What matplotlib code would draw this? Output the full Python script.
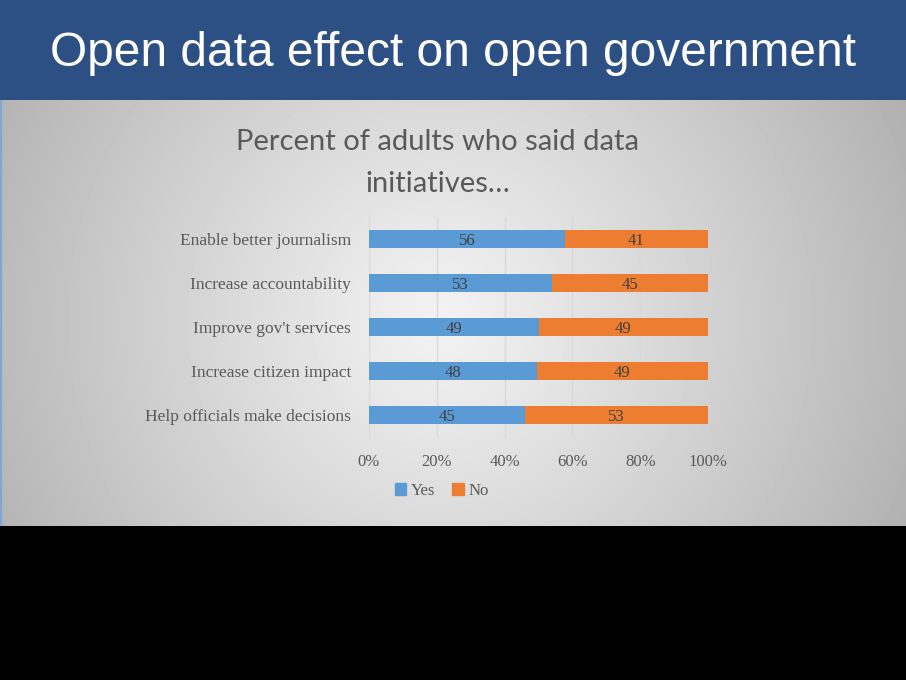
import numpy as np
import matplotlib
matplotlib.use("Agg")
import matplotlib.pyplot as plt
from matplotlib.patches import Patch

# data
categories = ["Enable better journalism", "Increase accountability",
              "Improve gov't services", "Increase citizen impact",
              "Help officials make decisions"]
yes = [56, 53, 49, 48, 45]
no = [41, 45, 49, 49, 53]
ticks = [0, 20, 40, 60, 80, 100]
tick_labels = ["0%", "20%", "40%", "60%", "80%", "100%"]

blue = "#5B9BD5"
orange = "#ED7D31"
txt = "#595959"
serif = ["Liberation Serif", "DejaVu Serif"]

W, H = 906, 680
fig = plt.figure(figsize=(W / 100, H / 100), dpi=100)
fig.patch.set_facecolor("black")

# header banner
ban = fig.add_axes([0, 1 - 100 / H, 1, 100 / H])
ban.set_facecolor("#2C5084")
ban.set_xticks([])
ban.set_yticks([])
for s in ban.spines.values():
    s.set_visible(False)
ban.text(0.5, 0.46, "Open data effect on open government", color="white",
         fontsize=34.5, family="Liberation Sans", ha="center", va="center",
         transform=ban.transAxes)

# grey radial background of the chart area
bg = fig.add_axes([0, 1 - 526 / H, 1, 426 / H])
yy, xx = np.mgrid[100:526, 0:W]
d = np.hypot(xx - 440, yy - 320)
shade = 0.95 - 0.25 * (d / 500) ** 1.1
bg.imshow(shade, cmap="gray", vmin=0, vmax=1, aspect="auto",
          extent=[0, W, 526, 100], interpolation="bilinear")
bg.axvline(0.8, color="#7FA6D6", lw=1.6)
bg.set_xlim(0, W)
bg.set_ylim(526, 100)
bg.axis("off")

fig.text(438 / W, 1 - 142 / H, "Percent of adults who said data",
         fontsize=21, color=txt, family="Lato", ha="center", va="center")
fig.text(438 / W, 1 - 184 / H, "initiatives\u2026",
         fontsize=21, color=txt, family="Lato", ha="center", va="center")

ax = fig.add_axes([369 / W, 1 - 437 / H, 339 / W, 220 / H])
ax.patch.set_alpha(0)

tot = [a + b for a, b in zip(yes, no)]
yes_p = [100 * a / t for a, t in zip(yes, tot)]
no_p = [100 * b / t for b, t in zip(no, tot)]
pos = np.arange(len(categories))

ax.barh(pos, yes_p, height=0.39, color=blue, zorder=3)
ax.barh(pos, no_p, left=yes_p, height=0.39, color=orange, zorder=3)

for i in pos:
    ax.text(yes_p[i] / 2, i + 0.04, str(yes[i]), ha="center", va="center",
            fontsize=12, color="#404040", family=serif, zorder=4)
    ax.text(yes_p[i] + no_p[i] / 2, i + 0.04, str(no[i]), ha="center",
            va="center", fontsize=12, color="#404040", family=serif, zorder=4)

ax.set_xlim(0, 100)
ax.set_ylim(len(categories) - 0.5, -0.5)
ax.set_yticks(pos)
ax.set_yticklabels(categories, fontsize=12.5, color=txt, family=serif)
ax.set_xticks(ticks)
ax.set_xticklabels(tick_labels, fontsize=12, color=txt, family=serif)
ax.tick_params(length=0)
ax.tick_params(axis="x", pad=12)
ax.tick_params(axis="y", pad=13)
ax.grid(axis="x", color="#D9D9D9", lw=1, zorder=0)
for s in ax.spines.values():
    s.set_visible(False)

handles = [Patch(color=blue, label="Yes"), Patch(color=orange, label="No")]
fig.legend(handles=handles, loc="center", bbox_to_anchor=(442 / W, 1 - 491 / H),
           ncol=2, frameon=False, handlelength=0.7, handleheight=0.7,
           handletextpad=0.3, columnspacing=1.0,
           prop={"family": serif, "size": 12}, labelcolor=txt)

fig.savefig("out.png", dpi=100, facecolor=fig.get_facecolor())
